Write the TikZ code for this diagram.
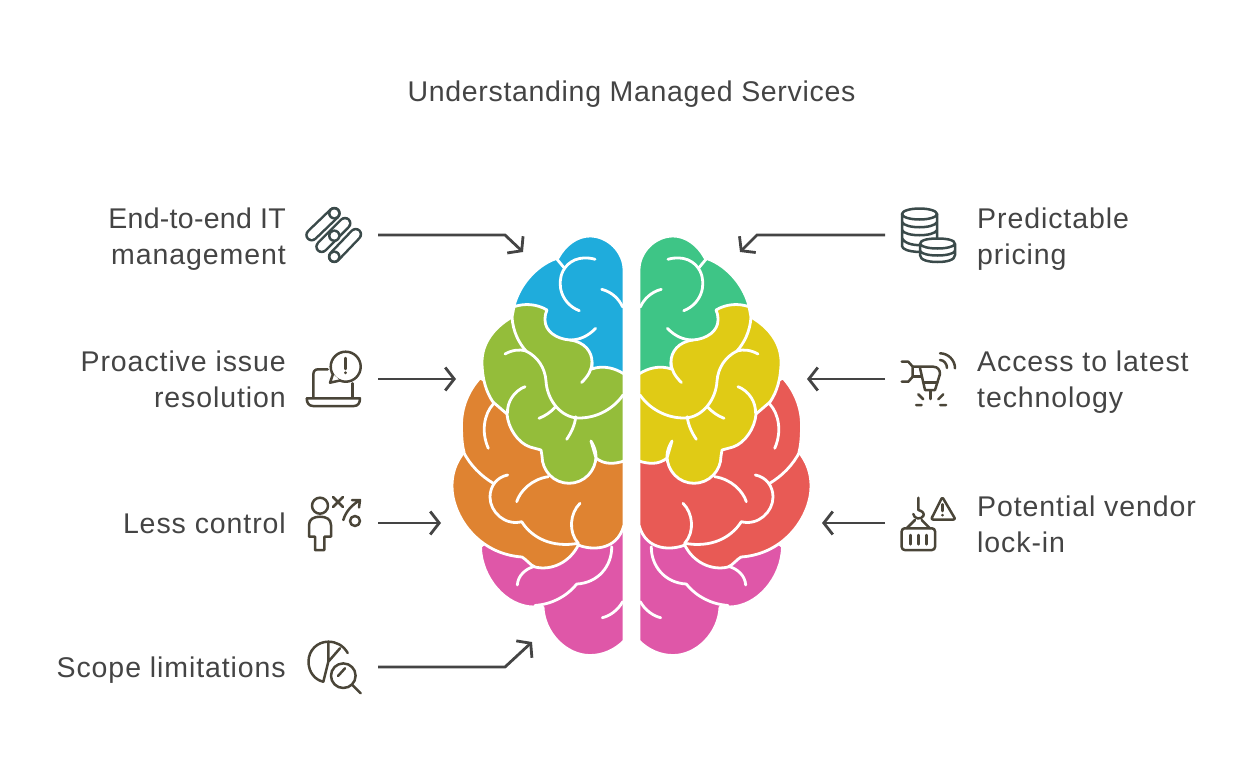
\documentclass[tikz,border=0pt]{standalone}
\usepackage{fontspec}
\setmainfont{Liberation Sans}[LetterSpace=3.2]
\usetikzlibrary{arrows.meta, positioning}

\definecolor{ink}{HTML}{444444}
\definecolor{iconteal}{HTML}{3A4A4A}
\definecolor{iconbrown}{HTML}{4A4538}
\definecolor{lobeblue}{HTML}{1FACDC}
\definecolor{lobegreen}{HTML}{94BD3A}
\definecolor{lobeorange}{HTML}{DF8331}
\definecolor{lobepink}{HTML}{DF57A8}
\definecolor{lobemint}{HTML}{3EC586}
\definecolor{lobeyellow}{HTML}{E0CB15}
\definecolor{lobered}{HTML}{E85A55}

\tikzset{
  label/.style={font=\fontsize{28.5}{36}\selectfont, text=ink, inner sep=0pt},
  lobe/.style={fill=#1, draw=white, line width=2.8pt, line join=round},
  fold/.style={draw=white, line width=2.8pt, line cap=round, line join=round},
  pointer/.style={draw=ink, line width=2.8pt, -{Straight Barb[length=9pt,width=23pt,line width=2.8pt]}},
  icon/.style={line width=2.5pt, line cap=round, line join=round},
  capsule/.style={line cap=round}
}

% one half of the brain, drawn for the left side
\newcommand{\brainhalf}[4]{
  \path[lobe=#1] (624,270) .. controls (624,252) and (608,236) .. (590,236) .. controls (577,236) and (565,245) .. (558,258)
    .. controls (540,263) and (520,282) .. (514,306) -- (560,380) -- (624,380) -- cycle;
  \path[lobe=#4] (480.5,546.7) .. controls (481,578) and (506,607) .. (534,607) -- (543,607)
    .. controls (544,633) and (566,655.5) .. (590,655.5) .. controls (603,655.5) and (615,650) .. (624,641)
    -- (624,520) -- (500,530) -- cycle;
  \path[lobe=#3] (480,378) .. controls (468,391) and (461.5,408) .. (461.5,425) .. controls (461.5,435) and (462,445) .. (464,452)
    .. controls (456,462) and (452,473) .. (452,486) .. controls (452,516) and (478,554) .. (522,557)
    .. controls (527,560) and (530,565) .. (535,567) .. controls (552,571) and (570,562) .. (578.3,545)
    .. controls (590,550) and (617,552) .. (624,525)
    -- (624,440) -- (560,420) -- cycle;
  \path[lobe=#2] (512,317) .. controls (493,328) and (482,344) .. (482,362) .. controls (482,378) and (486,392) .. (493,402) -- (507,414)
    .. controls (508,428) and (518,443) .. (530,447) -- (541,450) -- (542,456)
    .. controls (542,471) and (554,483.3) .. (569,483.3) .. controls (584,483.3) and (596,471) .. (596,456)
    .. controls (596,451) and (594,446) .. (591,441) -- (596,458)
    .. controls (604,465) and (615,464) .. (624,461)
    -- (624,374) .. controls (615,368) and (603,365) .. (591.7,369)
    .. controls (592,366) and (592,364) .. (592,362) .. controls (592,352) and (585,342) .. (570,340)
    .. controls (556,339) and (545,331) .. (545,320) .. controls (545,315) and (546,312) .. (547,310)
    .. controls (537,304) and (525,303) .. (514,306.7) -- cycle;
  \draw[fold] (556,258) -- (564,267.7);
  \draw[fold] (595,259.3) .. controls (580,255) and (568,261) .. (563,271) .. controls (556,285) and (562,304) .. (579.3,310.7);
  \draw[fold] (601.7,289.3) .. controls (612,292) and (619,299) .. (622.7,307);
  \draw[fold] (595.7,328.3) .. controls (588,336) and (580,340) .. (570,340);
  \draw[fold] (512,317) .. controls (513,332) and (519,343) .. (526,351) .. controls (538,357) and (545,368) .. (546,381)
    .. controls (547,400) and (561,418) .. (579,418) .. controls (598,418) and (614,408) .. (623,395);
  \draw[fold] (505,354) .. controls (512,350) and (520,349) .. (526,351);
  \draw[fold] (525,386.7) .. controls (514,391) and (507,402) .. (507.5,413);
  \draw[fold] (539,418.3) .. controls (545,416) and (551,412) .. (555.7,406.7);
  \draw[fold] (566.7,439.3) .. controls (571,433) and (575,425) .. (575.7,416.7);
  \draw[fold] (592,362) .. controls (592,370) and (588,376) .. (581.7,382.5);
  \draw[fold] (493.3,404) .. controls (484,414) and (481,432) .. (488.3,448.3);
  \draw[fold] (463.3,451.7) .. controls (470,465) and (481,476) .. (493.3,483.3);
  \draw[fold] (507.7,475) .. controls (497,477) and (490,486) .. (490,497) .. controls (490,512) and (505,526) .. (521.7,521.7)
    .. controls (532,538) and (552,548) .. (578.3,543.3);
  \draw[fold] (548.3,476.7) .. controls (532,479) and (520,491) .. (516.7,501.7);
  \draw[fold] (580,503.3) .. controls (570,513) and (568,532) .. (578.3,543.3);
  \draw[fold] (517.3,585) .. controls (518,575) and (526,569) .. (533.3,566.7);
  \draw[fold] (611.7,546.7) .. controls (612,566) and (598,583) .. (576.7,584) .. controls (566,597) and (552,604) .. (535,605.5);
  \draw[fold] (602.3,617.7) .. controls (610,616) and (618,610) .. (622.7,601.7);
}

\begin{document}
\begin{tikzpicture}[x=1pt, y=-1pt]
\useasboundingbox (0,0) rectangle (1245,768);

\node[label] (title) at (631.5,94) {\addfontfeature{LetterSpace=2.4}Understanding Managed Services};

\brainhalf{lobeblue}{lobegreen}{lobeorange}{lobepink}
\begin{scope}[shift={(1263,0)}, xscale=-1]
\brainhalf{lobemint}{lobeyellow}{lobered}{lobepink}
\end{scope}

\node[label, anchor=east, align=right] (endtoend) at (286,239) {\addfontfeature{LetterSpace=1}End-to-end IT\\management};
\node[label, anchor=east, align=right] (proactive) at (286,379.5) {Proactive issue\\resolution};
\node[label, anchor=east] (control) at (286,523.5) {Less control};
\node[label, anchor=east] (scope) at (286,670) {Scope limitations};
\node[label, anchor=west, align=left] (pricing) at (977,239) {Predictable\\pricing};
\node[label, anchor=west, align=left] (latest) at (977,382) {Access to latest\\technology};
\node[label, anchor=west, align=left] (vendor) at (977,524) {Potential vendor\\lock-in};

\coordinate (endtoend-out) at (378,235);
\coordinate (endtoend-in) at (523,252);
\coordinate (proactive-out) at (378,379);
\coordinate (proactive-in) at (456,379);
\coordinate (control-out) at (378,523);
\coordinate (control-in) at (441,523);
\coordinate (scope-out) at (378,667);
\coordinate (scope-in) at (532,642);
\coordinate (pricing-out) at (885,235);
\coordinate (pricing-in) at (740,252);
\coordinate (latest-out) at (885,379);
\coordinate (latest-in) at (807,379);
\coordinate (vendor-out) at (885,523);
\coordinate (vendor-in) at (822,523);

\draw[pointer] (endtoend-out) -- (505,235) -- (endtoend-in);
\draw[pointer] (proactive-out) -- (proactive-in);
\draw[pointer] (control-out) -- (control-in);
\draw[pointer] (scope-out) -- (505,667) -- (scope-in);
\draw[pointer] (pricing-out) -- (757,235) -- (pricing-in);
\draw[pointer] (latest-out) -- (latest-in);
\draw[pointer] (vendor-out) -- (vendor-in);

% capsules
\foreach \ax/\ay/\bx/\by in {334.3/213.3/311.7/235, 345/223.3/321.7/246.7, 355.7/234.3/334.3/256.7} {
  \draw[capsule, iconteal, line width=13pt] (\ax,\ay) -- (\bx,\by);
  \draw[capsule, white, line width=8pt] (\ax,\ay) -- (\bx,\by);
}
\foreach \cx/\cy in {334.3/213.3, 334.3/235.7, 334.3/256.7}
  \fill[iconteal] (\cx,\cy) circle[radius=6.3];
\foreach \cx/\cy in {334.3/213.3, 334.3/235.7, 334.3/256.7}
  \fill[white] (\cx,\cy) circle[radius=3.8];

% laptop
\draw[icon, iconbrown] (345.7,366.7) circle[radius=15];
\draw[icon, iconbrown, fill=white] (333,374) -- (330,382.7) -- (340,380.5);
\draw[icon, iconbrown] (345.7,358) -- (345.7,369) (345.7,372.5) -- (345.7,373);
\draw[icon, iconbrown] (327.7,369.3) -- (318.3,369.3) .. controls (315,369.3) and (313.3,371) .. (313.3,375) -- (313.3,397.7);
\draw[icon, iconbrown] (352.3,383.3) -- (352.3,397.7);
\draw[icon, iconbrown] (306.7,398.3) -- (360,398.3) .. controls (360,403) and (358,406) .. (354,406) -- (313,406) .. controls (309,406) and (306.7,403) .. (306.7,398.3);

% person, cross and play
\draw[icon, iconbrown] (320,505.7) circle[radius=8];
\draw[icon, iconbrown] (309,536.7) -- (309,525) .. controls (309,519) and (314,516.7) .. (320,516.7) .. controls (326,516.7) and (331,519) .. (331,525) -- (331,536.7) -- (324.3,536.7) -- (324.3,550) -- (315,550) -- (315,536.7) -- cycle;
\draw[icon, iconbrown] (333,497) -- (343,507) (343,497) -- (333,507);
\draw[icon, iconbrown] (343.3,520) .. controls (346,511) and (352,505) .. (360,500) (352,500) -- (360,500) -- (359,507.5);
\draw[icon, iconbrown] (355,521) circle[radius=5];

% pie and lens
\draw[icon, iconbrown] (347.7,653) .. controls (343,645) and (336,641.7) .. (328.3,641.7) .. controls (317,641.7) and (308.5,650.5) .. (308.5,661.7) .. controls (308.5,672) and (315,680) .. (323.3,681.7);
\draw[icon, iconbrown] (328.3,641.7) -- (328.3,661.7) -- (323.3,681.7) (328.3,661.7) -- (340,648.3);
\draw[icon, iconbrown] (343.3,675.7) circle[radius=12.3];
\draw[icon, iconbrown] (338,676) -- (345,668.3) (352.3,685) -- (360.7,693.3);

% coins
\draw[icon, iconteal] (919.5,214) ellipse[x radius=17.5, y radius=5.5];
\draw[icon, iconteal] (902,214) -- (902,246) .. controls (902,249) and (908,251.5) .. (919,252)
  (937,214) -- (937,240)
  (902,222) .. controls (905,229) and (934,229) .. (937,222)
  (902,230) .. controls (905,237) and (934,237) .. (937,230)
  (902,238) .. controls (905,245) and (918,245.5) .. (922,245);
\draw[icon, iconteal, fill=white] (920,244) .. controls (920,240) and (928,238.5) .. (937.5,238.5) .. controls (947,238.5) and (955,240) .. (955,244) -- (955,255) .. controls (955,260) and (947,262) .. (937.5,262) .. controls (928,262) and (920,260) .. (920,255) -- cycle;
\draw[icon, iconteal] (920,244) .. controls (923,250) and (952,250) .. (955,244)
  (920,251) .. controls (923,257) and (952,257) .. (955,251);

% drill
\draw[icon, iconbrown] (901.7,361.7) -- (908.3,361.7) -- (912.7,366.7) -- (912.7,376.7) -- (908.3,381.7) -- (901.7,381.7);
\draw[icon, iconbrown] (912.7,366.7) -- (933.3,366.7) .. controls (938,367) and (940,370) .. (940,374) -- (935,390) -- (925,390) -- (920,368);
\draw[icon, iconbrown] (912.7,376.7) -- (921.7,376.7) (923.3,382.7) -- (937.3,382.7) (930.7,390.7) -- (930.7,399);
\draw[icon, iconbrown] (918.3,394.3) -- (923.3,399.3) (943.3,394.3) -- (938.3,399.3) (916,405) -- (921.7,405) (940,405) -- (946,405);
\draw[icon, iconbrown] (940,360) .. controls (944,360) and (947,364) .. (947,368);
\draw[icon, iconbrown] (940,353.3) .. controls (948,353.3) and (955,360) .. (955,368.3);

% container and warning
\draw[icon, iconbrown] (918.3,497.7) -- (918.3,510) .. controls (923,511) and (924.5,514) .. (923.3,516) .. controls (921,520) and (914,519) .. (913.3,514);
\draw[icon, iconbrown] (915,520) -- (906.7,528.3) (921.7,520) -- (930,528.3);
\draw[icon, iconbrown, rounded corners=3pt] (901.7,528.3) rectangle (935,550);
\draw[icon, iconbrown] (910.7,535) -- (910.7,544.3) (918.3,535) -- (918.3,544.3) (926.7,535) -- (926.7,544.3);
\draw[icon, iconbrown, rounded corners=2pt] (942.3,497) -- (955.5,519.5) -- (931,519.5) -- cycle;
\draw[icon, iconbrown] (942.3,504.3) -- (942.3,511) (942.3,515) -- (942.3,515.3);
\end{tikzpicture}
\end{document}
